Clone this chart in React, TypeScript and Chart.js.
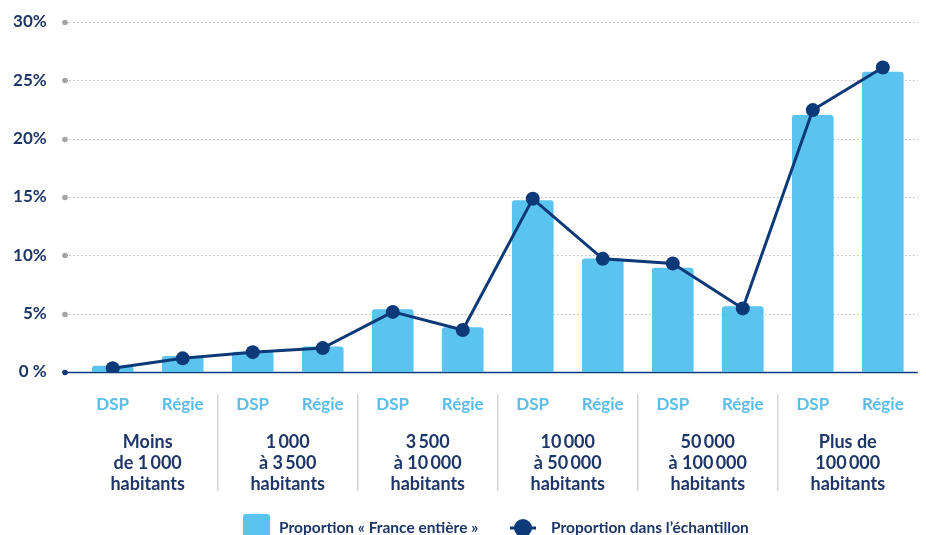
import React, { useEffect, useRef } from "react";
import { Chart, registerables } from "chart.js";

Chart.register(...registerables);

const categories = ["DSP", "Régie", "DSP", "Régie", "DSP", "Régie", "DSP", "Régie", "DSP", "Régie", "DSP", "Régie"];
const groupLabels = [
  ["Moins", "de 1\u2009000", "habitants"],
  ["1\u2009000", "à 3\u2009500", "habitants"],
  ["3\u2009500", "à 10\u2009000", "habitants"],
  ["10\u2009000", "à 50\u2009000", "habitants"],
  ["50\u2009000", "à 100\u2009000", "habitants"],
  ["Plus de", "100\u2009000", "habitants"],
];
const franceEntiere = [0.5, 1.35, 1.7, 2.15, 5.35, 3.8, 14.7, 9.7, 8.9, 5.6, 22.0, 25.7];
const echantillon = [0.32, 1.17, 1.7, 2.05, 5.15, 3.6, 14.85, 9.7, 9.3, 5.45, 22.45, 26.1];
const yTicks = [0, 5, 10, 15, 20, 25, 30];

const BAR = "#5bc3f0";
const NAVY = "#0c3a78";
const TEXT = "#1f3768";
const LIGHT = "#5bbde8";
const FONT = "Lato, 'Noto Sans', sans-serif";

const decorPlugin = {
  id: "decor",
  beforeDatasetsDraw(chart: any) {
    const { ctx, chartArea, scales } = chart;
    const y = scales.y;
    const x0 = 65;
    ctx.save();
    yTicks.forEach((v) => {
      const py = Math.round(y.getPixelForValue(v)) + 0.5;
      if (v === 0) {
        ctx.strokeStyle = NAVY;
        ctx.lineWidth = 1.5;
        ctx.setLineDash([]);
        ctx.beginPath();
        ctx.moveTo(x0, py);
        ctx.lineTo(chartArea.right, py);
        ctx.stroke();
        ctx.fillStyle = NAVY;
        ctx.beginPath();
        ctx.arc(x0, py, 2.8, 0, Math.PI * 2);
        ctx.fill();
      } else {
        ctx.strokeStyle = "#bdbdbd";
        ctx.lineWidth = 1.2;
        ctx.setLineDash([1.5, 2.5]);
        ctx.beginPath();
        ctx.moveTo(x0 + 4, py);
        ctx.lineTo(chartArea.right, py);
        ctx.stroke();
        ctx.setLineDash([]);
        ctx.fillStyle = "#a5a5a5";
        ctx.beginPath();
        ctx.arc(x0, py, 2.8, 0, Math.PI * 2);
        ctx.fill();
      }
    });
    ctx.restore();
  },
  afterDraw(chart: any) {
    const { ctx, scales } = chart;
    const x = scales.x;
    ctx.save();
    ctx.strokeStyle = "#d4d4d4";
    ctx.lineWidth = 1.5;
    for (let g = 1; g < groupLabels.length; g++) {
      const px = (x.getPixelForValue(2 * g - 1) + x.getPixelForValue(2 * g)) / 2;
      ctx.beginPath();
      ctx.moveTo(px, 394);
      ctx.lineTo(px, 491);
      ctx.stroke();
    }
    ctx.fillStyle = TEXT;
    ctx.font = `bold 18px ${FONT}`;
    ctx.textAlign = "center";
    ctx.textBaseline = "middle";
    groupLabels.forEach((lines, g) => {
      const px = (x.getPixelForValue(2 * g) + x.getPixelForValue(2 * g + 1)) / 2;
      lines.forEach((t, i) => ctx.fillText(t, px, 442 + i * 21));
    });
    const ly = 528;
    ctx.fillStyle = BAR;
    ctx.beginPath();
    (ctx as any).roundRect(243, 514, 27, 27, 3);
    ctx.fill();
    ctx.fillStyle = TEXT;
    ctx.font = `bold 15.5px ${FONT}`;
    ctx.textAlign = "left";
    ctx.fillText(chart.data.datasets[1].label, 279, ly);
    ctx.strokeStyle = NAVY;
    ctx.lineWidth = 3;
    ctx.beginPath();
    ctx.moveTo(510, ly);
    ctx.lineTo(536, ly);
    ctx.stroke();
    ctx.fillStyle = NAVY;
    ctx.beginPath();
    ctx.arc(523, ly, 9, 0, Math.PI * 2);
    ctx.fill();
    ctx.fillStyle = TEXT;
    ctx.fillText(chart.data.datasets[0].label, 551, ly);
    ctx.restore();
  },
};

export default function App() {
  const ref = useRef<HTMLCanvasElement | null>(null);
  useEffect(() => {
    if (!ref.current) return;
    const chart = new Chart(ref.current, {
      type: "bar",
      data: {
        labels: categories,
        datasets: [
          {
            type: "line",
            label: "Proportion dans l\u2019échantillon",
            data: echantillon,
            borderColor: NAVY,
            backgroundColor: NAVY,
            borderWidth: 3,
            pointRadius: 7,
            pointBackgroundColor: NAVY,
            pointBorderWidth: 0,
            tension: 0,
            order: 0,
          } as any,
          {
            type: "bar",
            label: "Proportion « France entière »",
            data: franceEntiere,
            backgroundColor: BAR,
            barThickness: 41,
            borderRadius: 3,
            order: 1,
          },
        ],
      },
      options: {
        animation: false,
        responsive: true,
        maintainAspectRatio: false,
        layout: { padding: { top: 22, right: 5, left: 0, bottom: 0 } },
        plugins: { legend: { display: false }, tooltip: { enabled: false } },
        scales: {
          x: {
            grid: { display: false, drawTicks: false },
            border: { display: false },
            ticks: {
              color: LIGHT,
              font: { family: FONT, size: 17, weight: "bold" },
              padding: 22,
              autoSkip: false,
              maxRotation: 0,
            },
            afterFit: (s: any) => {
              s.height = 163;
            },
          },
          y: {
            min: 0,
            max: 30,
            grid: { display: false, drawTicks: false },
            border: { display: false },
            ticks: {
              stepSize: 5,
              color: TEXT,
              font: { family: FONT, size: 17, weight: "bold" },
              padding: 31,
              callback: (v: any) => (v === 0 ? "0 %" : `${v}%`),
            },
            afterFit: (s: any) => {
              s.width = 77.7;
              s.paddingTop = 10;
              s.paddingBottom = 10;
            },
          },
        },
      },
      plugins: [decorPlugin],
    });
    return () => chart.destroy();
  }, []);
  return (
    <div style={{ position: "fixed", left: 0, top: 0, width: 926, height: 535, background: "#fff" }}>
      <canvas ref={ref} />
    </div>
  );
}
